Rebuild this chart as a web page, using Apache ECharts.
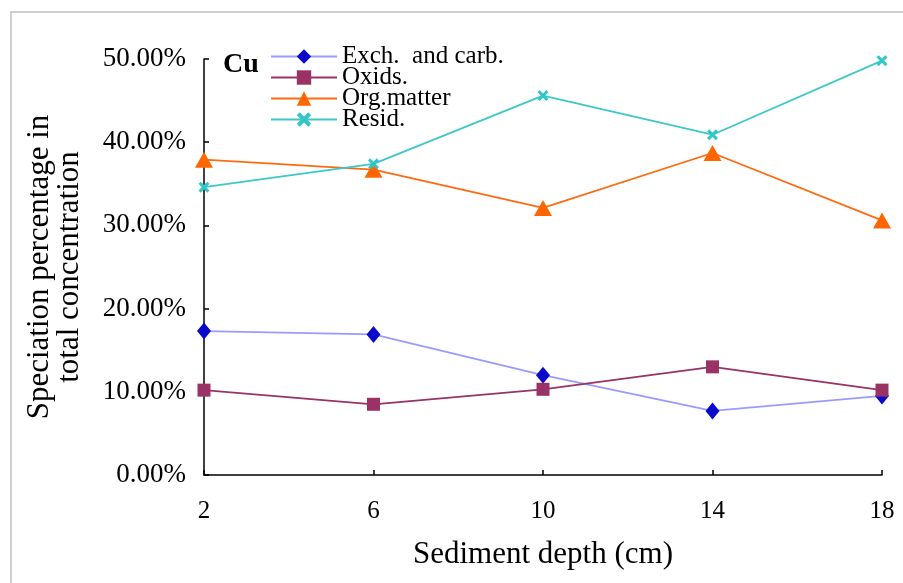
<!DOCTYPE html>
<html>
<head>
<meta charset="utf-8">
<script src="https://cdn.jsdelivr.net/npm/echarts@6/dist/echarts.min.js"></script>
<style>
html, body { margin: 0; padding: 0; background: #fff; }
.wrap { position: relative; width: 903px; height: 583px; }
.frame { position: absolute; left: 10px; top: 11px; right: 0; bottom: 0;
         border-left: 2px solid #cfcfcf; border-top: 2px solid #cfcfcf; pointer-events: none; }
#main { width: 903px; height: 583px; }
</style>
</head>
<body>
<div class="wrap">
    <div id="main"></div>
    <div class="frame"></div>
</div>
<script>
// 沉积深度 (cm)
var depths = ['2', '6', '10', '14', '18'];
var yTicks = [0, 0.1, 0.2, 0.3, 0.4, 0.5];

var exchCarb = [0.173, 0.169, 0.120, 0.077, 0.095];
var oxids    = [0.102, 0.085, 0.103, 0.130, 0.102];
var orgMatter = [0.379, 0.367, 0.321, 0.387, 0.306];
var resid    = [0.346, 0.374, 0.456, 0.409, 0.498];

var serif = 'Liberation Serif';
var xMark = 'path://M2,0 L5,3 L8,0 L10,2 L7,5 L10,8 L8,10 L5,7 L2,10 L0,8 L3,5 L0,2 Z';

var myChart = echarts.init(document.getElementById('main'));
var option = {
    animation: false,
    textStyle: { fontFamily: serif, color: '#000' },
    title: {
        text: 'Cu',
        left: 218, top: 46,
        textStyle: { fontFamily: serif, fontSize: 28, fontWeight: 'bold', color: '#000' }
    },
    legend: {
        orient: 'vertical',
        left: 265, top: 39,
        itemGap: -4,
        itemWidth: 66,
        itemHeight: 18,
        textStyle: { fontFamily: serif, fontSize: 25, lineHeight: 21, color: '#000' },
        data: ['Exch.  and carb.', 'Oxids.', 'Org.matter', 'Resid.']
    },
    grid: { left: 204, right: 21, top: 59, bottom: 108 },
    xAxis: {
        type: 'category',
        boundaryGap: false,
        data: depths,
        name: 'Sediment depth (cm)',
        nameLocation: 'middle',
        nameGap: 64,
        nameTextStyle: { fontFamily: serif, fontSize: 31, color: '#000' },
        axisLine: { lineStyle: { color: '#000', width: 1.5 } },
        axisTick: { inside: true, length: 5, lineStyle: { color: '#000', width: 1.5 } },
        axisLabel: { margin: 24, fontFamily: serif, fontSize: 25, color: '#000' }
    },
    yAxis: {
        type: 'value',
        min: yTicks[0],
        max: yTicks[yTicks.length - 1],
        interval: 0.1,
        name: 'Speciation percentage in\ntotal concentration',
        nameLocation: 'middle',
        nameRotate: 90,
        nameGap: 119,
        nameTextStyle: { fontFamily: serif, fontSize: 31, lineHeight: 30, color: '#000' },
        splitLine: { show: false },
        axisLine: { show: true, lineStyle: { color: '#000', width: 1.5 } },
        axisTick: { show: true, inside: true, length: 5, lineStyle: { color: '#000', width: 1.5 } },
        axisLabel: {
            margin: 18, fontFamily: serif, fontSize: 27, color: '#000',
            formatter: function (v) { return (v * 100).toFixed(2) + '%'; }
        }
    },
    series: [
        {
            name: 'Exch.  and carb.',
            type: 'line',
            data: exchCarb,
            symbol: 'diamond',
            symbolSize: [14, 17],
            lineStyle: { color: '#9a9aff', width: 1.8 },
            itemStyle: { color: '#0a0acc' }
        },
        {
            name: 'Oxids.',
            type: 'line',
            data: oxids,
            symbol: 'rect',
            symbolSize: 13,
            lineStyle: { color: '#993366', width: 1.8 },
            itemStyle: { color: '#993366' }
        },
        {
            name: 'Org.matter',
            type: 'line',
            data: orgMatter,
            symbol: 'triangle',
            symbolSize: [18, 16],
            lineStyle: { color: '#ff6a10', width: 1.8 },
            itemStyle: { color: '#ff6600' }
        },
        {
            name: 'Resid.',
            type: 'line',
            data: resid,
            symbol: xMark,
            symbolSize: 11,
            lineStyle: { color: '#3cc8c8', width: 1.8 },
            itemStyle: { color: '#33c6c6' }
        }
    ]
};
myChart.setOption(option, true);
window.onresize = myChart.resize;
</script>
</body>
</html>
